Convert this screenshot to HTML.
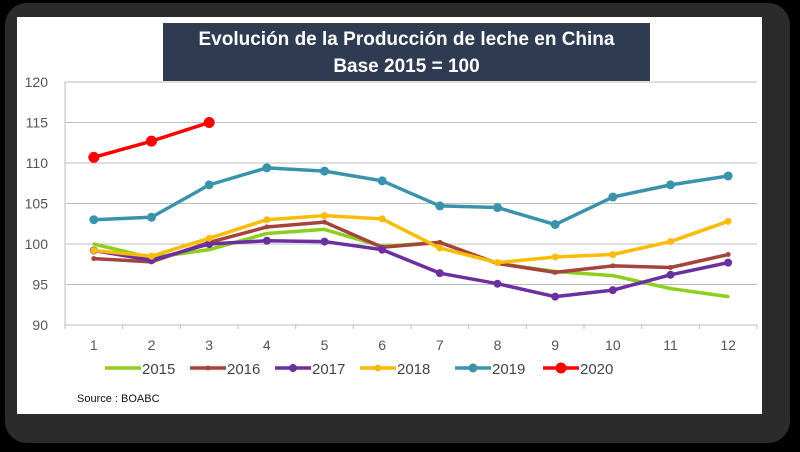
<!DOCTYPE html>
<html><head><meta charset="utf-8"><style>
html,body{margin:0;padding:0;background:#000;}
#wrap{position:relative;width:800px;height:452px;overflow:hidden;background:#000;}
#frame{position:absolute;left:5px;top:3px;width:785px;height:440px;background:#2b2b2b;border-radius:22px;}
#card{position:absolute;left:17px;top:17px;width:745px;height:397px;background:#fff;}
#title{position:absolute;left:163px;top:23px;width:487px;height:58px;background:#2f3b51;color:#fff;
 font-family:"Liberation Sans",sans-serif;font-weight:bold;font-size:19px;line-height:27px;text-align:center;padding-top:3px;box-sizing:border-box;}
#source{position:absolute;left:77px;top:393px;font-family:"Liberation Sans",sans-serif;font-size:11px;color:#111;}
svg{position:absolute;left:0;top:0;}
</style></head><body>
<div id="wrap">
<div id="frame"></div>
<div id="card"></div>
<svg id="chart" width="800" height="452"></svg>
<div id="title">Evolución de la Producción de leche en China<br>Base 2015 = 100</div>
<div id="source">Source : BOABC</div>
</div>
<script>
const months=["1","2","3","4","5","6","7","8","9","10","11","12"];
const yTicks=[90,95,100,105,110,115,120];
const seriesNames=["2015","2016","2017","2018","2019","2020"];
const seriesColors=["#8ccf1e","#a5443c","#6b2fa0","#fbbc09","#3a93ad","#ff0000"];
const s2015=[100,98.3,99.3,101.3,101.8,99.7,100.2,97.6,96.6,96.1,94.5,93.5];
const s2016=[98.2,97.8,100.2,102.1,102.7,99.6,100.2,97.6,96.5,97.3,97.1,98.7];
const s2017=[99.2,98.0,100.0,100.4,100.3,99.3,96.4,95.1,93.5,94.3,96.2,97.7];
const s2018=[99.2,98.5,100.7,103.0,103.5,103.1,99.5,97.7,98.4,98.7,100.3,102.8];
const s2019=[103.0,103.3,107.3,109.4,109.0,107.8,104.7,104.5,102.4,105.8,107.3,108.4];
const s2020=[110.7,112.7,115.0];
const allSeries=[s2015,s2016,s2017,s2018,s2019,s2020];
const ns="http://www.w3.org/2000/svg";
const svg=document.getElementById('chart');
const L=65,R=757,T=82,B=325,ymin=90,ymax=120;
const bw=(R-L)/months.length;
function xS(i){return L+bw*(i+0.5);}
function yS(v){return B-(v-ymin)/(ymax-ymin)*(B-T);}
function mk(tag,attrs){const e=document.createElementNS(ns,tag);for(const k in attrs)e.setAttribute(k,attrs[k]);svg.appendChild(e);return e;}
yTicks.forEach(v=>{
 if(v>ymin){const g=mk('line',{x1:L,x2:R,y1:yS(v),y2:yS(v),stroke:'#bdbdbd','stroke-width':1});
 
 }
 const t=mk('text',{x:48,y:yS(v)+5,'text-anchor':'end','font-family':'Liberation Sans, sans-serif','font-size':14,fill:'#555'});
 t.textContent=v;
 
 
});
const ya=mk('line',{x1:L,x2:L,y1:T,y2:B,stroke:'#bdbdbd','stroke-width':1});


const xa=mk('line',{x1:L,x2:R,y1:B,y2:B,stroke:'#bdbdbd','stroke-width':1});


for(let i=0;i<=months.length;i++){const tk=mk('line',{x1:L+bw*i,x2:L+bw*i,y1:B,y2:B+4,stroke:'#bdbdbd'});
 
 }
months.forEach((m,i)=>{const t=mk('text',{x:xS(i),y:350,'text-anchor':'middle','font-family':'Liberation Sans, sans-serif','font-size':14,fill:'#555'});
 t.textContent=m;
 
 });
const rad=[1.5,2.5,4,3.5,4.5,5.5];
allSeries.forEach((s,k)=>{
 const pts=s.map((v,i)=>xS(i)+','+yS(v)).join(' ');
 const pl=mk('polyline',{points:pts,fill:'none',stroke:seriesColors[k],'stroke-width':3.5,'stroke-linejoin':'round'});
 
 
 s.forEach((v,i)=>{const c=mk('circle',{cx:xS(i),cy:yS(v),r:rad[k],fill:seriesColors[k]});
  
  });
});
const legX=[105,190,275,360,455,543];
seriesNames.forEach((n,k)=>{
 const x=legX[k];
 const l=mk('line',{x1:x,x2:x+36,y1:368,y2:368,stroke:seriesColors[k],'stroke-width':3.5});
 
 
 const c=mk('circle',{cx:x+18,cy:368,r:rad[k],fill:seriesColors[k]});
 
 
 const t=mk('text',{x:x+37,y:374,'font-family':'Liberation Sans, sans-serif','font-size':15,fill:'#444'});
 t.textContent=n;
 
 
});
</script>
</body></html>
